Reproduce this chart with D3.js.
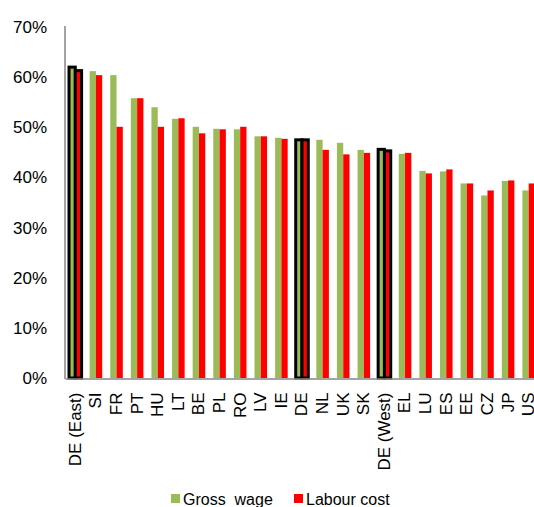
<!DOCTYPE html>
<html>
<head>
<meta charset="utf-8">
<script src="https://cdn.jsdelivr.net/npm/d3@7"></script>
<style>
  html, body { margin: 0; padding: 0; background: #fff; }
  svg { display: block; font-family: "Liberation Sans", Arial, sans-serif; }
</style>
</head>
<body>
<svg id="chart" width="534" height="507"></svg>
<script>
const categories = ["DE (East)","SI","FR","PT","HU","LT","BE","PL","RO","LV","IE","DE","NL","UK","SK","DE (West)","EL","LU","ES","EE","CZ","JP","US"];
const grossWage  = [62.0,61.2,60.4,55.8,54.0,51.7,50.1,49.7,49.6,48.2,47.9,47.5,47.5,46.9,45.5,45.6,44.7,41.3,41.2,38.8,36.4,39.3,37.4];
const labourCost = [61.3,60.4,50.1,55.8,50.1,51.8,48.8,49.6,50.1,48.2,47.7,47.5,45.5,44.6,44.9,45.3,44.9,40.8,41.6,38.8,37.4,39.4,38.8];
const highlighted = ["DE (East)","DE","DE (West)"];
const yTicks = [0,10,20,30,40,50,60,70];
const seriesNames = ["Gross  wage","Labour cost"];
const seriesColors = ["#9BBB59","#FF0000"];

(function () {
const svg = d3.select("#chart");
const mLeft = 65, mRight = 539, mTop = 27, mBottom = 378;

const x = d3.scaleBand().domain(categories).range([mLeft, mRight]).paddingInner(0.39).paddingOuter(0.195);
const xs = d3.scaleBand().domain([0,1]).range([0, x.bandwidth()]);
const y = d3.scaleLinear().domain([0,70]).range([mBottom, mTop]);

// Y axis
const yAxis = svg.append("g").attr("transform", `translate(${mLeft},0)`)
  .call(d3.axisLeft(y).tickValues(yTicks).tickFormat(d => d + "%").tickSize(0).tickPadding(18));
yAxis.select(".domain").remove();
yAxis.selectAll("text").attr("font-size", 17).attr("fill", "#000").attr("font-family", "Liberation Sans, Arial, sans-serif");

// Bars
const data = categories.map((c, i) => ({c, vals: [grossWage[i], labourCost[i]]}));
const groups = svg.append("g").selectAll("g").data(data).join("g")
  .attr("transform", d => `translate(${x(d.c)},0)`);
groups.selectAll("rect").data(d => d.vals.map((v, k) => ({v, k, hl: highlighted.includes(d.c)})))
  .join("rect")
  .attr("x", d => xs(d.k))
  .attr("width", xs.bandwidth())
  .attr("y", d => y(d.v))
  .attr("height", d => y(0) - y(d.v))
  .attr("fill", d => seriesColors[d.k])
  .attr("stroke", d => d.hl ? "#000" : "none")
  .attr("stroke-width", d => d.hl ? 3 : 0);

// Axis lines
svg.append("line").attr("x1", mLeft).attr("x2", mLeft).attr("y1", mTop - 1).attr("y2", mBottom + 1)
  .attr("stroke", "#868686").attr("stroke-width", 1.5);

const xAxis = svg.append("g").attr("transform", `translate(0,${mBottom + 0.5})`)
  .call(d3.axisBottom(x).tickSize(0));
xAxis.select(".domain").attr("stroke", "#868686").attr("stroke-width", 1.5);
xAxis.selectAll("text")
  .attr("font-size", 17).attr("fill", "#000").attr("font-family", "Liberation Sans, Arial, sans-serif")
  .attr("text-anchor", "end")
  .attr("transform", "rotate(-90)")
  .attr("x", -14).attr("y", 0).attr("dy", "0.32em");

// Legend
const legend = svg.append("g");
const legendX = [171, 294];
seriesNames.forEach((name, i) => {
  legend.append("rect").attr("x", legendX[i]).attr("y", 494).attr("width", 9).attr("height", 9).attr("fill", seriesColors[i]);
  legend.append("text").attr("x", legendX[i] + 12).attr("y", 505).attr("font-size", 16)
    .attr("fill", "#000").style("white-space", "pre").text(name);
});
})();
</script>
</body>
</html>
